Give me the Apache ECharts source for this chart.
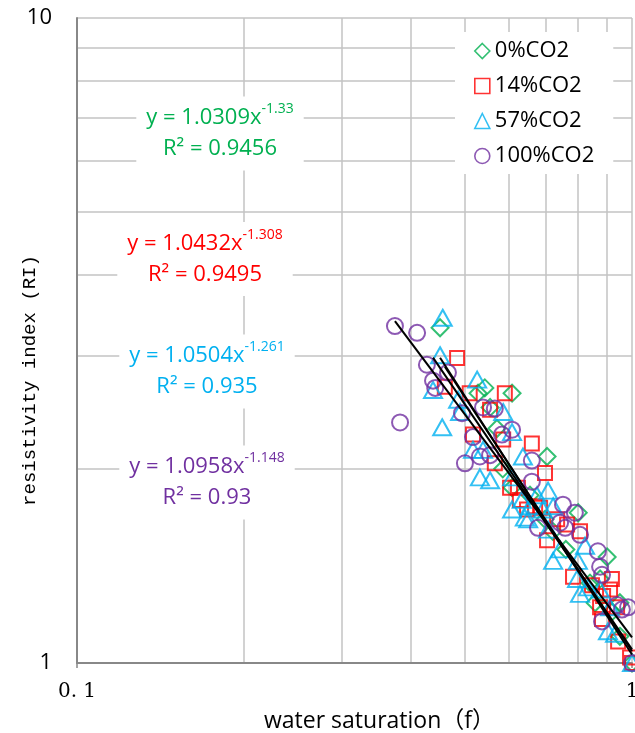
<!DOCTYPE html>
<html><head><meta charset="utf-8">
<script src="https://cdn.jsdelivr.net/npm/echarts@6/dist/echarts.min.js"></script>
<style>html,body{margin:0;padding:0;background:#fff}#c{width:635px;height:733px}</style>
</head><body><div id="c"></div>
<script>
// ---------- data ----------
const seriesNames = ['0%CO2', '14%CO2', '57%CO2', '100%CO2'];
const xTickLabels = ['0. 1', '1'];
const yTickLabels = ['1', '10'];
const xMinorGrid = [0.2, 0.3, 0.4, 0.5, 0.6, 0.7, 0.8, 0.9];
const yMinorGrid = [2, 3, 4, 5, 6, 7, 8, 9];

const co2_0 = [[0.451,3.31],[0.528,2.62],[0.543,2.67],[0.608,2.62],[0.555,2.49],[0.571,2.31],
  [0.703,2.09],[0.608,1.87],[0.655,1.82],[0.697,1.67],[0.80,1.71],[0.902,1.46],[0.876,1.35],
  [0.858,1.24],[0.951,1.24],[0.951,1.10],[0.585,2.0],[0.72,1.6],[0.76,1.5],[0.84,1.33],[0.92,1.2],[1,1]];
const co2_14 = [[0.484,2.97],[0.460,2.68],[0.510,2.62],[0.590,2.62],[0.555,2.47],[0.517,2.26],
  [0.586,2.22],[0.660,2.19],[0.697,1.97],[0.566,2.04],[0.603,1.87],[0.623,1.87],[0.647,1.73],
  [0.683,1.74],[0.733,1.67],[0.628,1.79],[0.669,1.75],[0.703,1.55],[0.764,1.64],[0.806,1.60],
  [0.783,1.36],[0.920,1.35],[0.876,1.22],[0.913,1.30],[0.847,1.32],[0.887,1.27],[0.940,1.22],
  [0.944,1.08],[0.883,1.17],[0.992,1.02],[1,1]];
const co2_57 = [[0.456,3.43],[0.451,3.00],[0.438,2.65],[0.526,2.75],[0.486,2.56],[0.455,2.32],
  [0.586,2.45],[0.490,2.45],[0.517,2.14],[0.539,2.14],[0.532,1.94],[0.555,1.92],[0.608,1.94],
  [0.633,1.79],[0.608,1.73],[0.674,1.82],[0.691,1.73],[0.721,1.75],[0.641,1.68],[0.608,2.28],
  [0.636,2.09],[0.706,1.85],[0.650,1.67],[0.706,1.61],[0.721,1.44],[0.799,1.44],[0.796,1.35],
  [0.876,1.30],[0.913,1.22],[0.823,1.52],[0.655,1.75],[0.742,1.50],[0.806,1.28],[0.833,1.31],
  [0.905,1.12],[0.932,1.11],[1,1]];
const co2_100 = [[0.374,3.33],[0.410,3.25],[0.427,2.90],[0.438,2.74],[0.442,2.67],[0.466,2.82],
  [0.382,2.36],[0.494,2.44],[0.539,2.49],[0.566,2.48],[0.608,2.30],[0.500,2.04],[0.532,2.09],
  [0.555,2.10],[0.583,2.26],[0.660,2.06],[0.517,2.24],[0.660,1.91],[0.751,1.76],[0.789,1.71],
  [0.742,1.65],[0.677,1.62],[0.806,1.58],[0.868,1.49],[0.876,1.41],[0.883,1.37],[0.984,1.22],
  [0.940,1.23],[0.758,1.62],[0.883,1.16],[0.959,1.21],[1,1]];

// trendline end points
const fit_0 = [[0.451,2.973],[1,1.031]];
const fit_14 = [[0.460,2.880],[1,1.043]];
const fit_57 = [[0.438,2.975],[1,1.050]];
const fit_100 = [[0.374,3.389],[1,1.096]];

const fitA = ['1.0309', '1.0432', '1.0504', '1.0958'];
const fitB = ['-1.33', '-1.308', '-1.261', '-1.148'];
const fitR2 = ['0.9456', '0.9495', '0.935', '0.93'];

// ---------- styles ----------
const colors = ['#00B050', '#FF0000', '#00B0F0', '#7030A0'];
const symbols = ['diamond', 'rect', 'triangle', 'circle'];
const symbolSizes = [[17,17], 14, [18,16], 16];
const eqPos = [[220,133.5],[205,259],[207,371.5],[207,482.5]];
const SANS = '"Open Sans", "Noto Sans CJK SC", sans-serif';
const GRID_C = '#c3c3c3';
const AXIS_C = '#888888';

const scatterData = [co2_0, co2_14, co2_57, co2_100];
const fitData = [fit_0, fit_14, fit_57, fit_100];

const series = [];
series.push({
  type: 'line', name: 'grid', data: [], silent: true, z: 0,
  markLine: {
    silent: true, symbol: 'none', z: 0, animation: false,
    label: {show: false},
    lineStyle: {color: GRID_C, width: 1.5, type: 'solid'},
    emphasis: {disabled: true},
    data: xMinorGrid.map(v => ({xAxis: v})).concat(yMinorGrid.map(v => ({yAxis: v})))
  }
});
scatterData.forEach((d, i) => {
  series.push({
    type: 'scatter', name: seriesNames[i], data: d, symbol: symbols[i],
    symbolSize: symbolSizes[i], clip: false, z: 2,
    itemStyle: {color: 'rgba(0,0,0,0)', borderColor: colors[i], borderWidth: 2}
  });
});
fitData.forEach((d, i) => {
  series.push({
    type: 'line', name: 'fit' + i, data: d, symbol: 'none', z: 5, silent: true,
    lineStyle: {color: '#000', width: 2}
  });
});

const graphics = fitA.map((a, i) => ({
  type: 'text', x: eqPos[i][0], y: eqPos[i][1], z: 100,
  style: {
    text: '{e|y = ' + a + 'x}{s|' + fitB[i] + '}\n{e|R² = ' + fitR2[i] + '}',
    align: 'center', verticalAlign: 'middle', fill: colors[i],
    backgroundColor: '#fff', padding: [6, 10],
    rich: {
      e: {fontSize: 22, fontFamily: SANS, lineHeight: 31, fill: colors[i]},
      s: {fontSize: 14, fontFamily: SANS, lineHeight: 22, verticalAlign: 'top', fill: colors[i]}
    }
  }
}));

const chart = echarts.init(document.getElementById('c'), null, {renderer: 'canvas'});
chart.setOption({
  animation: false,
  backgroundColor: '#fff',
  grid: {left: 77, right: 3, top: 18, bottom: 70, containLabel: false, outerBoundsMode: 'none'},
  xAxis: {
    type: 'log', logBase: 10, min: 0.1, max: 1,
    name: 'water saturation（f）', nameLocation: 'middle', nameGap: 47, nameMoveOverlap: false,
    nameTextStyle: {fontSize: 23, fontFamily: SANS, color: '#000', padding: [0, 0, 0, 50]},
    axisLine: {show: true, lineStyle: {color: AXIS_C, width: 2}},
    axisTick: {show: true, length: 5, lineStyle: {color: AXIS_C, width: 1.5}},
    axisLabel: {fontFamily: '"DejaVu Serif", serif', fontSize: 20, color: '#000', margin: 19,
      formatter: (v, idx) => xTickLabels[idx]},
    splitLine: {show: true, lineStyle: {color: GRID_C, width: 1.5}},
    minorTick: {show: false}, minorSplitLine: {show: false}
  },
  yAxis: {
    type: 'log', logBase: 10, min: 1, max: 10,
    name: 'resistivity index (RI)', nameLocation: 'middle', nameGap: 38, nameRotate: 90,
    nameMoveOverlap: false,
    nameTextStyle: {fontSize: 19, fontFamily: '"Liberation Mono", monospace', color: '#000', padding: [0, 80, 0, 0]},
    axisLine: {show: true, lineStyle: {color: AXIS_C, width: 2}},
    axisTick: {show: false},
    axisLabel: {fontFamily: SANS, fontSize: 22, color: '#000', margin: 25,
      formatter: (v, idx) => yTickLabels[idx]},
    splitLine: {show: true, lineStyle: {color: GRID_C, width: 1.5}}
  },
  legend: {
    orient: 'vertical', left: 455, top: 32, padding: [8, 19, 7, 19],
    backgroundColor: '#fff', itemGap: 13, itemWidth: 15, itemHeight: 15,
    textStyle: {fontSize: 22, fontFamily: SANS, color: '#000', lineHeight: 22},
    selectedMode: false,
    data: seriesNames.map((n, i) => ({name: n, icon: symbols[i]})),
    itemStyle: {borderWidth: 1.6}
  },
  graphic: graphics,
  series: series
});
</script>
</body></html>
